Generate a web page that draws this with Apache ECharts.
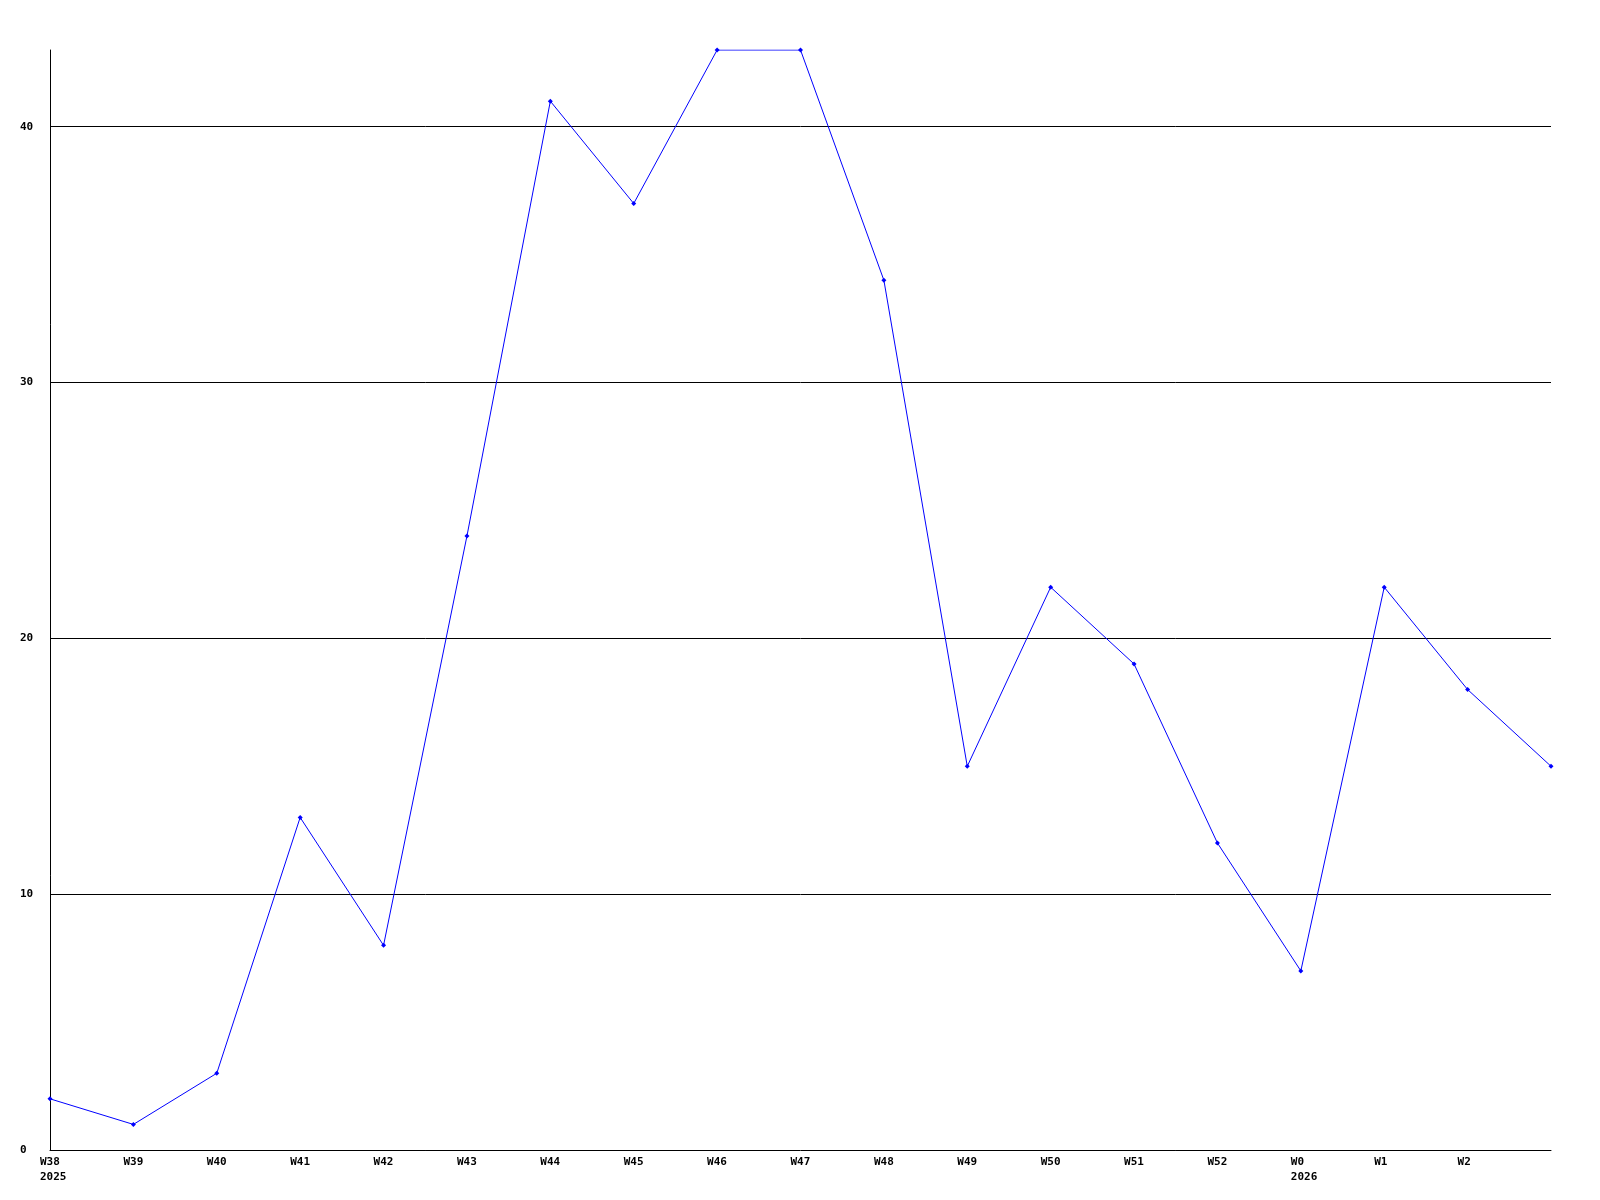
<!DOCTYPE html>
<html>
<head>
<meta charset="utf-8">
<script src="https://cdn.jsdelivr.net/npm/echarts@6/dist/echarts.min.js"></script>
<style>
html,body{margin:0;padding:0;background:#fff;}
#c{width:1600px;height:1200px;}
</style>
</head>
<body>
<div id="c"></div>
<script>
const weeks = ["W38","W39","W40","W41","W42","W43","W44","W45","W46","W47","W48","W49","W50","W51","W52","W0","W1","W2",""];
const years = {"W38":"2025","W0":"2026"};
const values = [2,1,3,13,8,24,41,37,43,43,34,15,22,19,12,7,22,18,15];
const yMin = 0, yMax = 43, yInterval = 10;

const font = '"DejaVu Sans Mono", monospace';
const chart = echarts.init(document.getElementById('c'), null, {renderer:'canvas'});
chart.setOption({
  animation:false,
  backgroundColor:'#fff',
  grid:{left:50, right:49, top:50, bottom:50, containLabel:false},
  xAxis:{
    type:'category',
    data:weeks,
    boundaryGap:false,
    axisLine:{show:true, lineStyle:{color:'#000', width:1}},
    axisTick:{show:false},
    splitLine:{show:false},
    axisLabel:{
      interval:0,
      margin:5,
      formatter:function(v){
        if(!v) return '';
        let s='{a|'+v+'}';
        if(years[v]) s+='\n{a|'+years[v]+'}';
        return s;
      },
      rich:{a:{width:20, align:'left', fontFamily:font, fontWeight:'bold', fontSize:11, color:'#000', lineHeight:15}}
    }
  },
  yAxis:{
    type:'value',
    min:yMin, max:yMax, interval:yInterval,
    axisLine:{show:true, lineStyle:{color:'#000', width:1}},
    axisTick:{show:false},
    splitLine:{show:true, showMinLine:false, showMaxLine:false, lineStyle:{color:'#000', width:1}},
    axisLabel:{
      showMaxLabel:false,
      align:'left', margin:30,
      fontFamily:font, fontWeight:'bold', fontSize:11, color:'#000'
    }
  },
  series:[{
    type:'line',
    data:values,
    symbol:'diamond',
    symbolSize:5,
    showAllSymbol:true,
    lineStyle:{color:'#0000ff', width:1},
    itemStyle:{color:'#0000ff'}
  }]
});
</script>
</body>
</html>
